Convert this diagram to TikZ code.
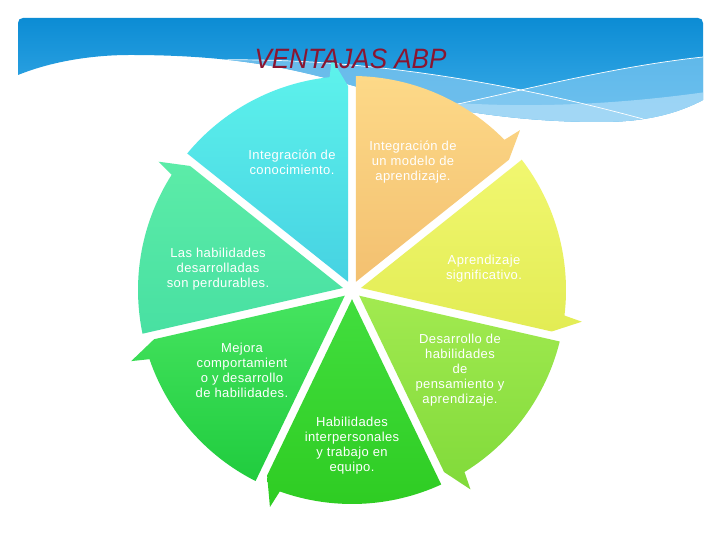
\documentclass[tikz,border=0pt]{standalone}
\usepackage{fontspec}
\setmainfont{Liberation Sans}
\newfontfamily\titlefont[FakeStretch=0.93]{Liberation Sans}
\newfontfamily\lblfont[LetterSpace=3]{Liberation Sans}
\usetikzlibrary{calc}
\definecolor{bannerTop}{RGB}{12,140,212}
\definecolor{bannerBot}{RGB}{62,174,233}
\definecolor{bandA}{RGB}{118,194,238}
\definecolor{bandB}{RGB}{140,206,244}
\definecolor{bandC}{RGB}{178,222,248}
\definecolor{titlered}{RGB}{138,21,48}
\definecolor{cyanT}{RGB}{94,243,236}
\definecolor{cyanB}{RGB}{70,210,226}
\definecolor{orangeT}{RGB}{253,217,136}
\definecolor{orangeB}{RGB}{243,192,112}
\definecolor{yellowT}{RGB}{241,247,112}
\definecolor{yellowB}{RGB}{226,236,84}
\definecolor{lgreenT}{RGB}{162,234,80}
\definecolor{lgreenB}{RGB}{128,218,58}
\definecolor{bgreenT}{RGB}{66,222,62}
\definecolor{bgreenB}{RGB}{46,204,34}
\definecolor{lfgreenT}{RGB}{70,228,96}
\definecolor{lfgreenB}{RGB}{32,204,62}
\definecolor{tealT}{RGB}{92,236,168}
\definecolor{tealB}{RGB}{72,224,162}
\tikzset{
  lbl/.style={text=white, align=center, inner sep=0pt, font=\lblfont\fontsize{13}{15}\selectfont},
  wline/.style={white, line width=0.7pt}
}
\newcommand\abpsector[3]{%
  \pgfmathsetmacro\abpsa{90-51.428571*#1}%
  \pgfmathsetmacro\abpea{\abpsa-51.428571}%
  \pgfmathsetmacro\abpma{\abpsa-25.714286}%
  \pgfmathsetmacro\abpas{\abpsa-1.07}%
  \pgfmathsetmacro\abpae{\abpea+6}%
  \pgfmathsetmacro\abpta{\abpea+5}%
  \pgfmathsetmacro\abpia{\abpea+1.12}%
  \shade[top color=#2,bottom color=#3] ($(C)+(\abpma:9.2)$) -- ($(C)+(\abpas:214)$)
    arc[start angle=\abpas,end angle=\abpae,radius=214]
    -- ($(C)+(\abpta:232)$) -- ($(C)+(\abpia:204)$) -- cycle;%
}
\begin{document}
\begin{tikzpicture}[x=1pt,y=1pt]
\useasboundingbox (0,0) rectangle (720,540);
\fill[white] (0,0) rectangle (720,540);
% banner
\shade[top color=bannerTop,bottom color=bannerBot]
  (18,465) -- (18,517) .. controls (18,520) and (20,522) .. (23,522) -- (698,522)
  .. controls (701,522) and (703,520) .. (703,517) -- (703,440)
  .. controls (680,428) and (650,418) .. (600,418)
  .. controls (500,418) and (420,435) .. (340,458)
  .. controls (280,475) and (220,485) .. (130,485)
  .. controls (90,485) and (50,478) .. (18,465) -- cycle;
\begin{scope}
  \clip (18,465) -- (18,522) -- (703,522) -- (703,440)
  .. controls (680,428) and (650,418) .. (600,418)
  .. controls (500,418) and (420,435) .. (340,458)
  .. controls (280,475) and (220,485) .. (130,485)
  .. controls (90,485) and (50,478) .. (18,465) -- cycle;
  \fill[bandA, opacity=0.85] (217,480) .. controls (330,482) and (470,468) .. (643,421)
    -- (720,400) -- (720,300) -- (217,300) -- cycle;
  \fill[bandB, opacity=0.6] (458,436) .. controls (540,454) and (620,474) .. (703,483)
    -- (720,483) -- (720,300) -- (458,300) -- cycle;
  \fill[bandC, opacity=0.7] (420,440) .. controls (500,432) and (600,432) .. (720,450)
    -- (720,300) -- (420,300) -- cycle;
  \draw[wline] (217,480) .. controls (330,482) and (470,468) .. (643,421);
  \draw[wline] (458,436) .. controls (540,454) and (620,474) .. (703,483);
\end{scope}
% wheel
\coordinate (C) at (352,250);
\abpsector{0}{orangeT}{orangeB}
\abpsector{1}{yellowT}{yellowB}
\abpsector{2}{lgreenT}{lgreenB}
\abpsector{3}{bgreenT}{bgreenB}
\abpsector{4}{lfgreenT}{lfgreenB}
\abpsector{5}{tealT}{tealB}
\abpsector{6}{cyanT}{cyanB}
% labels
\node[lbl] (l1) at (292,377.5) {Integración de\\conocimiento.};
\node[lbl] (l2) at (413,378) {Integración de\\un modelo de\\aprendizaje.};
\node[lbl] (l3) at (484,271.5) {Aprendizaje\\significativo.};
\node[lbl] (l4) at (460,170) {Desarrollo de\\habilidades\\de\\pensamiento y\\aprendizaje.};
\node[lbl] (l5) at (352,94.5) {Habilidades\\interpersonales\\y trabajo en\\equipo.};
\node[lbl] (l6) at (242,170) {Mejora\\comportamient\\o y desarrollo\\de habilidades.};
\node[lbl] (l7) at (218,271) {Las habilidades\\desarrolladas\\son perdurables.};
% title
\node[font=\titlefont\itshape\fontsize{28}{30}\selectfont, text=titlered, anchor=base, inner sep=0pt] (title) at (350.5,471) {VENTAJAS ABP};
\end{tikzpicture}
\end{document}
